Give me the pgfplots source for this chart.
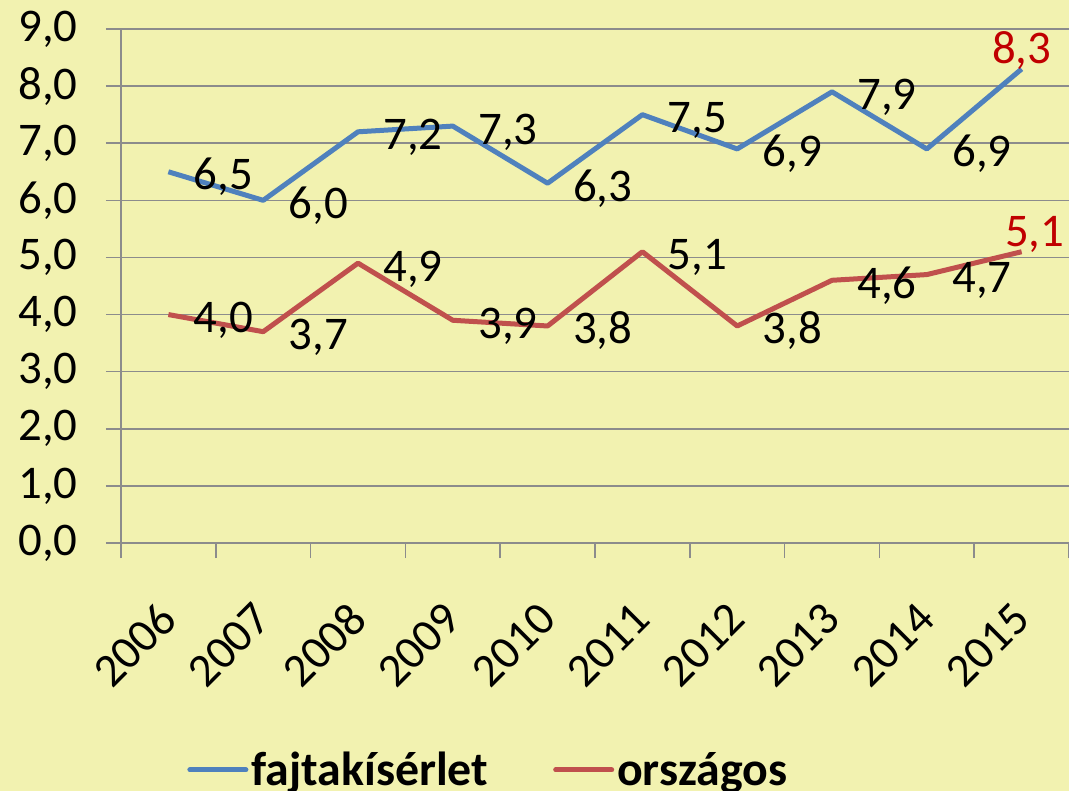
\documentclass[border=0pt]{standalone}
\usepackage{fontspec}
\setmainfont{Carlito}
\usepackage{pgfplots}
\pgfplotsset{compat=1.18}
\usepackage{pgfplotstable}
\definecolor{bg}{HTML}{F2F2B0}
\definecolor{gridgray}{HTML}{8C8C8C}
\definecolor{serblue}{HTML}{4F81BD}
\definecolor{serred}{HTML}{C0504D}
\definecolor{lblred}{HTML}{C00000}
\newcommand{\chartfont}{\fontsize{23.5}{28}\selectfont}

% last label of each series is drawn separately (red, above the point)
\pgfplotstableread{
x y lbl
0 6.5 6,5
1 6.0 6,0
2 7.2 7,2
3 7.3 7,3
4 6.3 6,3
5 7.5 7,5
6 6.9 6,9
7 7.9 7,9
8 6.9 6,9
9 8.3 {}
}\fajta
\pgfplotstableread{
x y lbl
0 4.0 4,0
1 3.7 3,7
2 4.9 4,9
3 3.9 3,9
4 3.8 3,8
5 5.1 5,1
6 3.8 3,8
7 4.6 4,6
8 4.7 4,7
9 5.1 {}
}\orszagos

\begin{document}
\begin{tikzpicture}
\path[fill=bg, use as bounding box] (-60.5bp,-124bp) rectangle (474bp,271.5bp);
\begin{axis}[
  at={(0,0)}, anchor=south west,
  scale only axis, width=474bp, height=257bp,
  xmin=-0.5, xmax=9.5, ymin=0, ymax=9,
  axis x line*=bottom, axis y line*=left,
  axis line style={draw=gridgray, line width=0.8bp, -},
  ytick={0,1,...,9}, ymajorgrids,
  grid style={draw=gridgray, line width=0.8bp},
  tick align=outside, major tick length=7.5bp,
  tick style={draw=gridgray, line width=0.8bp},
  xtick={-0.5,0.5,1.5,2.5,3.5,4.5,5.5,6.5,7.5,8.5,9.5}, xticklabels={},
  extra x ticks={0,1,...,9},
  extra x tick labels={2006,2007,2008,2009,2010,2011,2012,2013,2014,2015},
  extra x tick style={major tick length=0pt, grid=none},
  ticklabel style={font=\chartfont, inner sep=0pt},
  yticklabel style={/pgf/number format/use comma, /pgf/number format/fixed,
    /pgf/number format/fixed zerofill, /pgf/number format/precision=1,
    /pgf/number format/assume math mode=true, anchor=east, xshift=-14bp},
  xticklabel style={yshift=-34bp, rotate=45, anchor=east},
  legend columns=2,
  legend style={at={(0.0633,-0.4416)}, anchor=west, draw=none, fill=none,
    font=\bfseries\fontsize{24}{29}\selectfont,
    nodes={inner xsep=1.5bp, inner ysep=0pt},
    /tikz/every even column/.append style={column sep=31bp}},
  legend cell align=left,
  legend image code/.code={\draw[#1, line width=2.5bp, line cap=round] (0bp,0bp) -- (28bp,0bp);},
  nodes near coords style={font=\chartfont, inner sep=0pt},
]
\addplot[serblue, line width=2.5bp, line join=round, mark=none,
  nodes near coords, point meta=explicit symbolic,
  nodes near coords style={text=black, anchor=base west, xshift=11.5bp, yshift=-9bp}]
  table[x=x, y=y, meta=lbl] {\fajta};
\addlegendentry{fajtakísérlet}
\addplot[serred, line width=2.5bp, line join=round, mark=none,
  nodes near coords, point meta=explicit symbolic,
  nodes near coords style={text=black, anchor=base west, xshift=11.5bp, yshift=-9bp}]
  table[x=x, y=y, meta=lbl] {\orszagos};
\addlegendentry{országos}
% red labels of the last year
\addplot[draw=none, mark=none, forget plot, point meta=y,
  nodes near coords={\pgfmathprintnumber[use comma, fixed, fixed zerofill,
    precision=1, assume math mode=true]{\pgfplotspointmeta}},
  nodes near coords style={text=lblred, anchor=base, xshift=0bp, yshift=2.5bp}]
  coordinates {(9,8.3)};
\addplot[draw=none, mark=none, forget plot, point meta=y,
  nodes near coords={\pgfmathprintnumber[use comma, fixed, fixed zerofill,
    precision=1, assume math mode=true]{\pgfplotspointmeta}},
  nodes near coords style={text=lblred, anchor=base, xshift=6.5bp, yshift=2.5bp}]
  coordinates {(9,5.1)};
\end{axis}
\end{tikzpicture}
\end{document}
